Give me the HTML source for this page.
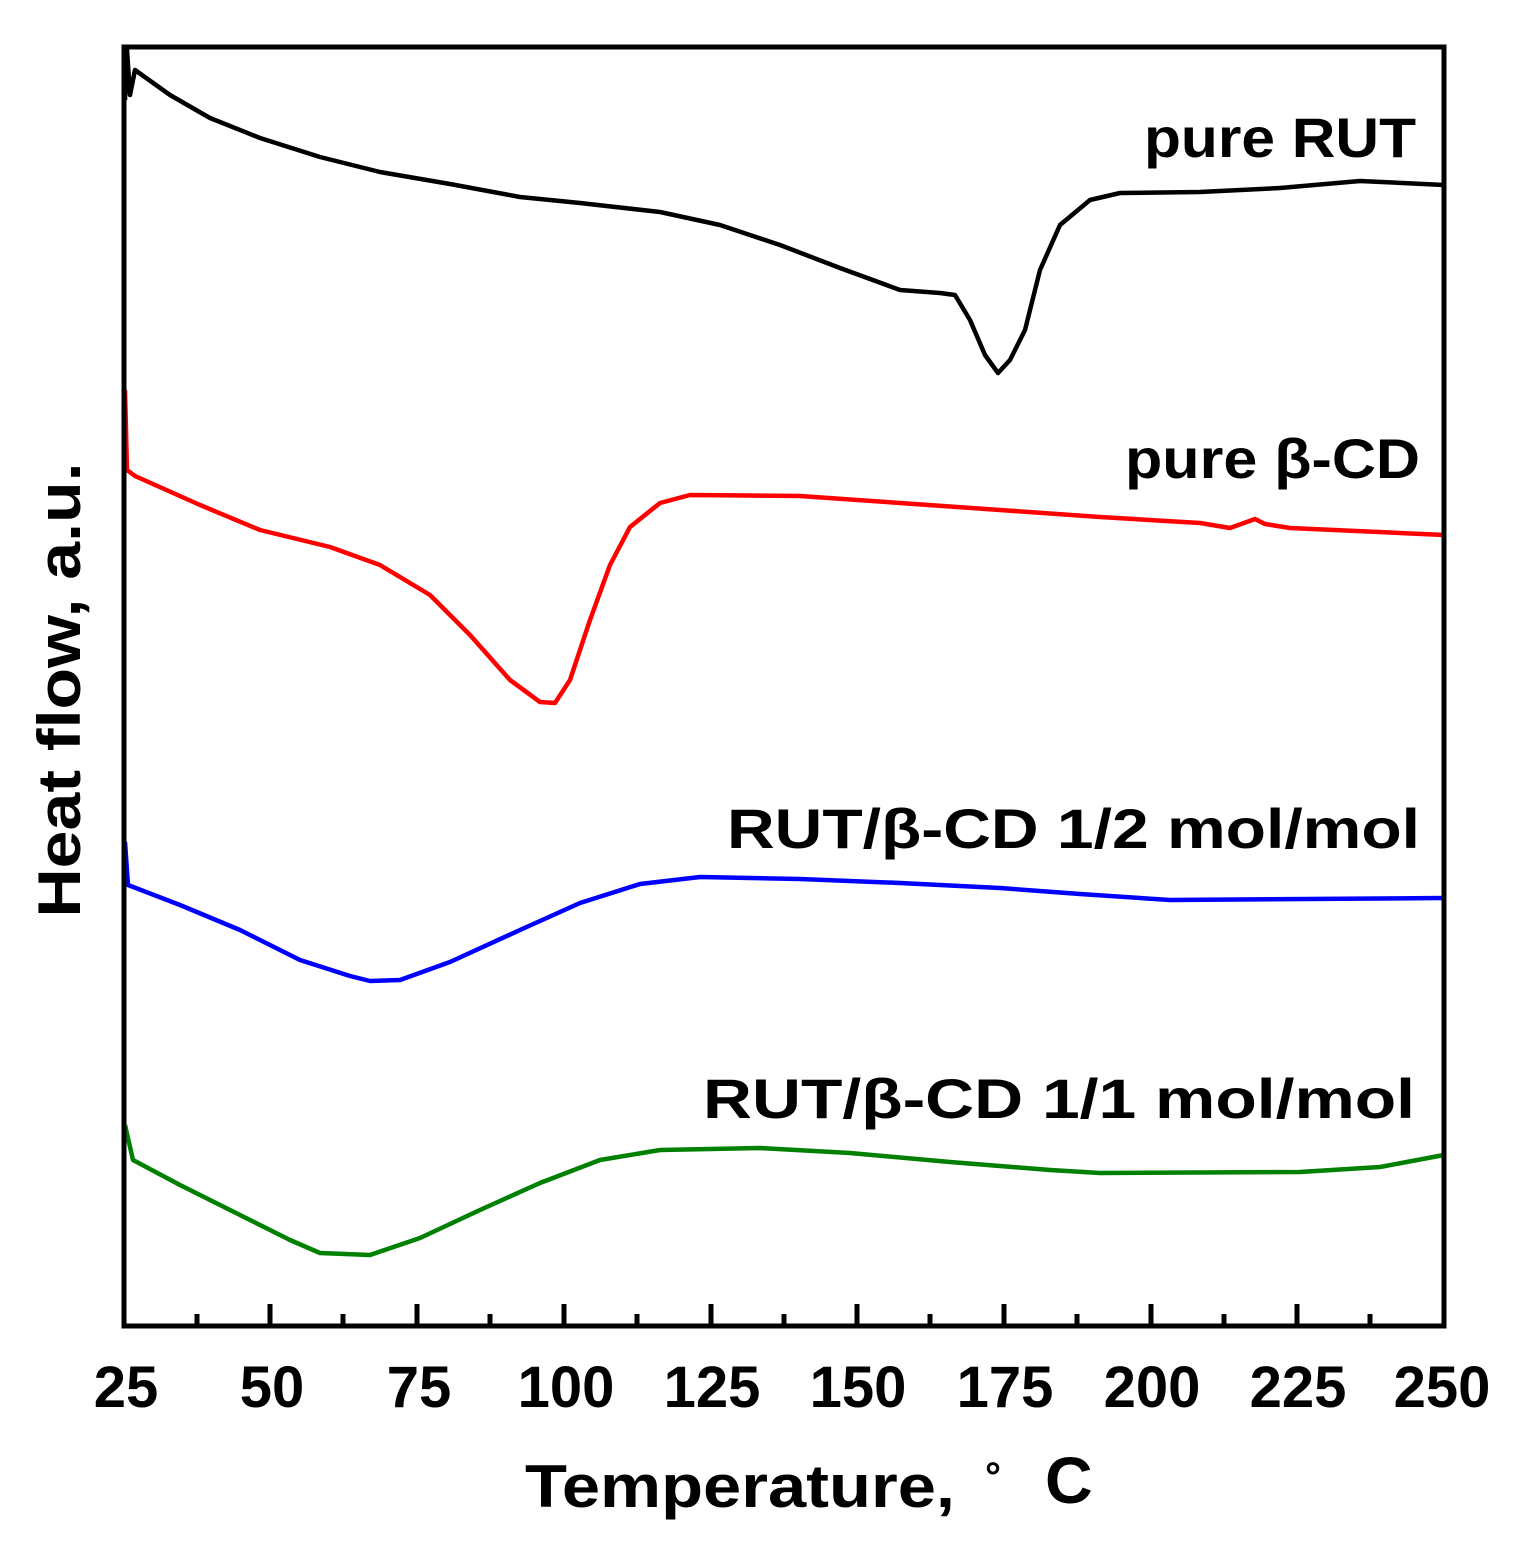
<!DOCTYPE html>
<html><head><style>body{margin:0;background:#fff}svg{display:block}</style></head>
<body>
<svg width="1539" height="1566" xmlns="http://www.w3.org/2000/svg" font-family="Liberation Sans, sans-serif" font-weight="bold">
<rect width="1539" height="1566" fill="#fff"/>
<g fill="none" stroke-width="4.5" stroke-linejoin="round">
<polyline stroke="#000" points="125,100 127,50 130,95 135,70 170,95 210,118 260,138 320,157 380,172 450,184 520,197 580,203 660,212 720,225 780,245 840,268 900,290 940,293 955,295 970,320 985,355 998,373 1010,360 1025,330 1040,270 1060,225 1090,200 1120,193 1200,192 1280,188 1360,181 1444,185"/>
<polyline stroke="#ff0000" points="125,390 127,470 135,476 200,505 260,530 330,547 380,565 430,595 470,635 510,680 540,702 555,703 570,680 590,620 610,565 630,527 660,503 690,495 800,496 900,503 1000,510 1100,517 1200,523 1230,528 1255,519 1265,524 1290,528 1444,535"/>
<polyline stroke="#0000ff" points="125,842 128,885 180,905 240,930 300,960 350,976 370,981 400,980 450,962 520,930 580,903 640,884 700,877 800,879 900,883 1000,888 1080,894 1170,900 1444,898"/>
<polyline stroke="#008000" points="125,1125 133,1160 180,1185 240,1215 290,1240 320,1253 370,1255 420,1238 480,1210 540,1183 600,1160 660,1150 760,1148 850,1153 950,1162 1050,1170 1100,1173 1300,1172 1380,1167 1444,1155"/>
</g>
<rect x="124" y="47" width="1320" height="1279" fill="none" stroke="#000" stroke-width="5"/>
<g stroke="#000" stroke-width="5">
<line x1="270" y1="1326" x2="270" y2="1304"/><line x1="417" y1="1326" x2="417" y2="1304"/><line x1="564" y1="1326" x2="564" y2="1304"/><line x1="711" y1="1326" x2="711" y2="1304"/><line x1="857" y1="1326" x2="857" y2="1304"/><line x1="1004" y1="1326" x2="1004" y2="1304"/><line x1="1151" y1="1326" x2="1151" y2="1304"/><line x1="1297" y1="1326" x2="1297" y2="1304"/>
<line x1="197" y1="1326" x2="197" y2="1314"/><line x1="343" y1="1326" x2="343" y2="1314"/><line x1="490" y1="1326" x2="490" y2="1314"/><line x1="637" y1="1326" x2="637" y2="1314"/><line x1="784" y1="1326" x2="784" y2="1314"/><line x1="930" y1="1326" x2="930" y2="1314"/><line x1="1077" y1="1326" x2="1077" y2="1314"/><line x1="1224" y1="1326" x2="1224" y2="1314"/><line x1="1370" y1="1326" x2="1370" y2="1314"/>
</g>
<g font-size="58" text-anchor="middle" fill="#000">
<text x="126" y="1407">25</text><text x="272" y="1407">50</text><text x="419" y="1407">75</text><text x="566" y="1407">100</text><text x="712" y="1407">125</text><text x="858" y="1407">150</text><text x="1005" y="1407">175</text><text x="1152" y="1407">200</text><text x="1298" y="1407">225</text><text x="1442" y="1407">250</text>
</g>
<text x="525" y="1507" font-size="60" textLength="430" lengthAdjust="spacingAndGlyphs">Temperature,</text>
<text x="985" y="1490" font-size="40">°</text>
<text x="1045" y="1503" font-size="66">C</text>
<text transform="translate(80,690) rotate(-90)" font-size="60" text-anchor="middle" textLength="455" lengthAdjust="spacingAndGlyphs">Heat flow, a.u.</text>
<g font-size="56" text-anchor="end" fill="#000">
<text x="1416" y="157" textLength="272" lengthAdjust="spacingAndGlyphs">pure RUT</text>
<text x="1420" y="478" textLength="295" lengthAdjust="spacingAndGlyphs">pure β-CD</text>
<text x="1420" y="848" textLength="693" lengthAdjust="spacingAndGlyphs">RUT/β-CD 1/2 mol/mol</text>
<text x="1415" y="1118" textLength="712" lengthAdjust="spacingAndGlyphs">RUT/β-CD  1/1 mol/mol</text>
</g>
</svg>
</body></html>
